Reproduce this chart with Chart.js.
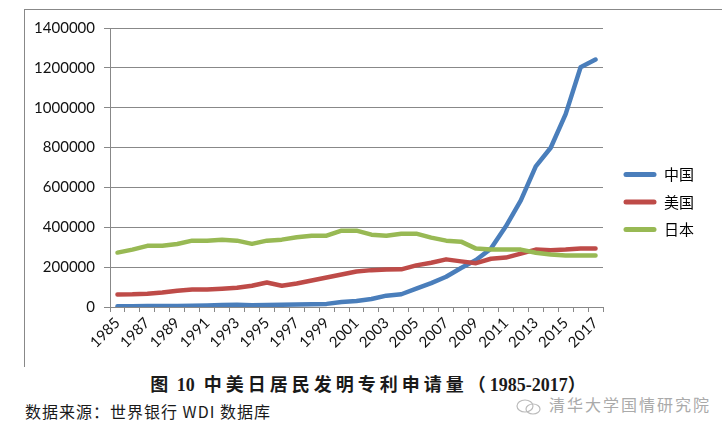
<!DOCTYPE html>
<html>
<head>
<meta charset="utf-8">
<script src="https://cdn.jsdelivr.net/npm/chart.js@4"></script>
<style>
  body { margin: 0; background: #fff; width: 728px; height: 430px; position: relative; overflow: hidden; font-family: "Noto Sans CJK SC", sans-serif; }
  #frame { position: absolute; left: 24px; top: 9px; width: 698px; height: 358px; border-top: 1px solid #888; border-left: 1px solid #888; box-sizing: border-box; }
  #box { position: absolute; left: 25px; top: 10px; width: 703px; height: 357px; }
  #title { position: absolute; left: 0; top: 374px; width: 740px; text-align: center; font-family: "Liberation Serif", "Noto Sans CJK SC", serif; font-weight: bold; font-size: 18px; line-height: 22px; color: #1a1a1a; white-space: pre; }
  #title .cjk { letter-spacing: 4px; }
  #source { position: absolute; left: 25px; top: 401px; font-size: 16px; line-height: 20px; letter-spacing: 1px; color: #1a1a1a; white-space: nowrap; }
  #mark { position: absolute; left: 515px; top: 394px; color: #aaa; font-size: 16px; line-height: 20px; letter-spacing: 2px; white-space: nowrap; }
  #mark svg { vertical-align: middle; margin-right: 6px; }
</style>
</head>
<body>
<div id="frame"></div>
<div id="box"><canvas id="myChart"></canvas></div>
<div id="title"><span class="cjk">图</span> 10  <span class="cjk">中美日居民发明专利申请量（</span>1985-2017<span class="cjk">）</span></div>
<div id="source">数据来源：世界银行 WDI 数据库</div>
<div id="mark"><svg width="28" height="16" viewBox="0 0 28 16"><ellipse cx="10" cy="7" rx="8" ry="6" fill="none" stroke="#bbb" stroke-width="1.2"/><ellipse cx="18" cy="10" rx="7" ry="5" fill="none" stroke="#bbb" stroke-width="1.2"/></svg>清华大学国情研究院</div>
<script>
// datos (WDI, solicitudes de patentes de residentes)
const years = ['1985','1986','1987','1988','1989','1990','1991','1992','1993','1994','1995',
  '1996','1997','1998','1999','2000','2001','2002','2003','2004','2005','2006','2007',
  '2008','2009','2010','2011','2012','2013','2014','2015','2016','2017'];

const seriesNames = ['中国', '美国', '日本'];

const china = [4000, 3500, 4400, 4800, 5200, 5800, 7400, 10000, 11000, 9100, 10000,
  11500, 12700, 13700, 15600, 25600, 30000, 40000, 57000, 64000, 92000, 120000, 152000,
  196000, 236000, 293000, 405000, 535000, 706000, 799000, 968000, 1203000, 1242000];

const usa = [63000, 64000, 67000, 73000, 82000, 88000, 88000, 92000, 97000, 107000, 123000,
  107000, 118000, 133000, 148000, 163000, 178000, 185000, 188000, 189000, 209000, 222000, 239000,
  229000, 220000, 242000, 248000, 268000, 288000, 285000, 288000, 293000, 293000];

const japan = [273000, 288000, 307000, 307000, 316000, 333000, 333000, 337000, 333000, 317000, 333000,
  338000, 350000, 358000, 358000, 383000, 383000, 363000, 358000, 368000, 368000, 348000, 333000,
  328000, 293000, 289000, 288000, 288000, 272000, 263000, 258000, 258000, 258000];

const yTicks = [0, 200000, 400000, 600000, 800000, 1000000, 1200000, 1400000];

const colors = ['#4a7ebb', '#be4b48', '#98b954'];
const gridColor = '#888888';

Chart.defaults.font.family = 'Lato';
Chart.defaults.color = '#111';

// ancho fijo de la leyenda y un pequeño desplazamiento para que quede como en el original
const legendFix = {
  id: 'legendFix',
  beforeInit(chart) {
    const fit = chart.legend.fit;
    chart.legend.fit = function () {
      fit.call(this);
      this.width = 125;
    };
  },
  afterLayout(chart) {
    const lg = chart.legend;
    lg.left += 8; lg.right += 8;
    lg.top += 5; lg.bottom += 5;
  }
};

const ctx = document.getElementById('myChart');

const myChart = new Chart(ctx, {
  type: 'line',
  data: {
    labels: years,
    datasets: [china, usa, japan].map((d, i) => ({
      label: seriesNames[i],
      data: d,
      borderColor: colors[i],
      backgroundColor: colors[i],
      borderWidth: 4.5,
      pointRadius: 0,
      pointHoverRadius: 0,
      tension: 0,
      borderJoinStyle: 'round',
      borderCapStyle: 'round',
      order: 2 - i
    }))
  },
  options: {
    responsive: true,
    maintainAspectRatio: false,
    animation: false,
    layout: { padding: { left: 0, top: 17, right: 0, bottom: 0 } },
    plugins: {
      tooltip: { enabled: false },
      legend: {
        position: 'right',
        labels: {
          boxWidth: 33,
          boxHeight: 5,
          padding: 12.5,
          color: '#000',
          useBorderRadius: true,
          borderRadius: 2.5,
          font: { family: '"Noto Sans CJK SC"', size: 15 },
          sort: (a, b) => a.datasetIndex - b.datasetIndex,
          generateLabels: chart => Chart.defaults.plugins.legend.labels.generateLabels(chart).map(item => {
            item.fillStyle = item.strokeStyle;
            item.lineWidth = 0;
            return item;
          })
        }
      }
    },
    scales: {
      x: {
        offset: true,
        afterFit: scale => { scale.height = 60; },
        grid: { display: true, drawOnChartArea: false, drawTicks: true, tickLength: 5, color: gridColor, offset: true },
        border: { display: true, color: gridColor },
        ticks: {
          autoSkip: false,
          maxRotation: 45,
          minRotation: 45,
          padding: 2,
          font: { size: 15 },
          color: '#111',
          callback: (v, i) => (i % 2 === 0 ? years[i] : '')
        }
      },
      y: {
        min: 0,
        max: 1400000,
        afterFit: scale => { scale.width = 85; },
        afterBuildTicks: scale => { scale.ticks = yTicks.map(v => ({ value: v })); },
        grid: { color: gridColor, lineWidth: 1, drawTicks: true, tickLength: 6 },
        border: { display: true, color: gridColor },
        ticks: {
          padding: 9,
          font: { size: 15 },
          color: '#111',
          callback: v => String(v)
        }
      }
    }
  },
  plugins: [legendFix]
});
</script>
</body>
</html>
